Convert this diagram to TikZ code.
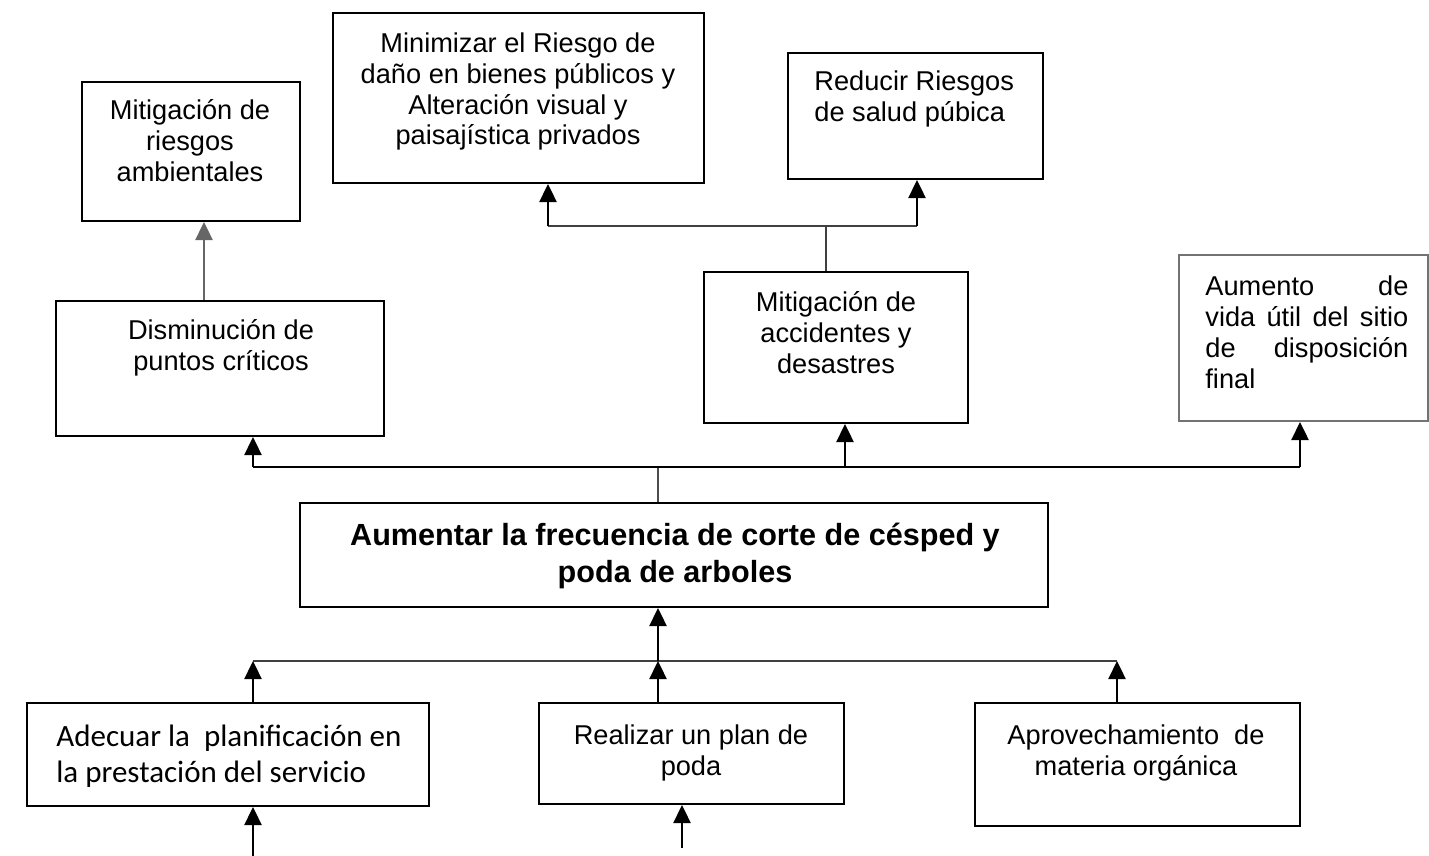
\documentclass[tikz,border=0pt]{standalone}
\usepackage{fontspec}
\setmainfont{Liberation Sans}
\newfontfamily\calib{Carlito}
\usetikzlibrary{fit,arrows.meta}
\begin{document}
\begin{tikzpicture}[x=0.5pt,y=-0.5pt,
 box/.style={draw, line width=1pt, inner sep=0pt},
 txt/.style={font=\fontsize{13.6}{15.5}\selectfont, align=center, inner sep=0pt, anchor=base},
 arr/.style={line width=1.2pt, -{Triangle[width=8.5pt,length=9pt]}},
 ln/.style={line width=1.2pt},
 gln/.style={line width=1pt, draw=black!75}]
\useasboundingbox (0,0) rectangle (1429,856);

% boxes (text nodes are placed at the baseline of their last line)
\node[box, fit={(82,82)(300,221)}] (amb) {};
\node[txt] (ambt) at (190,181) {Mitigación de\\riesgos\\ambientales};

\node[box, fit={(333,13)(704,183)}] (min) {};
\node[txt] (mint) at (518,145) {Minimizar el Riesgo de\\daño en bienes públicos y\\Alteración visual y\\paisajística privados};

\node[box, fit={(788,53)(1043,179)}] (red) {};
\node[txt, align=left, anchor=base west] (redt) at (814,121) {Reducir Riesgos\\de salud púbica};

\node[box, fit={(56,301)(384,436)}] (dis) {};
\node[txt] (dist) at (221,370) {Disminución de\\puntos críticos};

\node[box, fit={(704,272)(968,423)}] (acc) {};
\node[txt] (acct) at (836,373) {Mitigación de\\accidentes y\\desastres};

\node[box, fit={(1179,255)(1428,421)}, draw=black!55] (vid) {};
\node[txt, align=left, anchor=base west, text width=101.5pt] (vidt) at (1205,295)
 {Aumento\hfill de\\vida\hfill útil\hfill del\hfill sitio\\de\hfill disposición\\final};

\node[box, fit={(300,503)(1048,607)}] (main) {};
\node[txt, font=\bfseries\fontsize{15.3}{18.5}\selectfont] (maint) at (675,582)
 {Aumentar la frecuencia de corte de césped y\\poda de arboles};

\node[box, fit={(27,703)(429,806)}] (ade) {};
\node[txt, align=left, anchor=base west, font=\calib\fontsize{15.5}{18}\selectfont] (adet) at (56,782)
 {Adecuar la\ \ planificación en\\la prestación del servicio};

\node[box, fit={(539,703)(844,804)}] (rea) {};
\node[txt] (reat) at (691,775) {Realizar un plan de\\poda};

\node[box, fit={(975,703)(1300,826)}] (apr) {};
\node[txt] (aprt) at (1136,775) {Aprovechamiento\ \ de\\materia orgánica};

% helper coordinates
\coordinate (xa) at (204,0);
\coordinate (xm) at (548,0);
\coordinate (xr) at (917,0);
\coordinate (xc) at (826,0);
\coordinate (hy1) at (0,226);
\coordinate (xd) at (253,0);
\coordinate (xmc) at (658,0);
\coordinate (xac) at (845,0);
\coordinate (xv) at (1300,0);
\coordinate (hy2) at (0,467);
\coordinate (xp) at (1117,0);
\coordinate (hy3) at (0,661);
\coordinate (b1) at (253,856);
\coordinate (b2) at (682,848);

% top level connectors
\draw[arr, draw=black!60] (dis.north -| xa) -- (amb.south -| xa);
\draw[gln] (acc.north -| xc) -- (xc |- hy1);
\draw[gln] (xm |- hy1) -- (xr |- hy1);
\draw[arr] (xm |- hy1) -- (min.south -| xm);
\draw[arr] (xr |- hy1) -- (red.south -| xr);

% main up
\draw[ln, draw=black!70] (main.north -| xmc) -- (xmc |- hy2);
\draw[ln] (xd |- hy2) -- (xv |- hy2);
\draw[arr] (xd |- hy2) -- (dis.south -| xd);
\draw[arr] (xac |- hy2) -- (acc.south -| xac);
\draw[arr] (xv |- hy2) -- (vid.south -| xv);

% bottom row
\draw[gln, line width=0.8pt] (xd |- hy3) -- (xp |- hy3);
\draw[arr] (ade.north -| xd) -- (xd |- hy3);
\draw[arr] (rea.north -| xmc) -- (xmc |- hy3);
\draw[arr] (apr.north -| xp) -- (xp |- hy3);
\draw[arr] (xmc |- hy3) -- (main.south -| xmc);

% incoming from below
\draw[arr] (b1) -- (ade.south -| b1);
\draw[arr] (b2) -- (rea.south -| b2);
\end{tikzpicture}
\end{document}
